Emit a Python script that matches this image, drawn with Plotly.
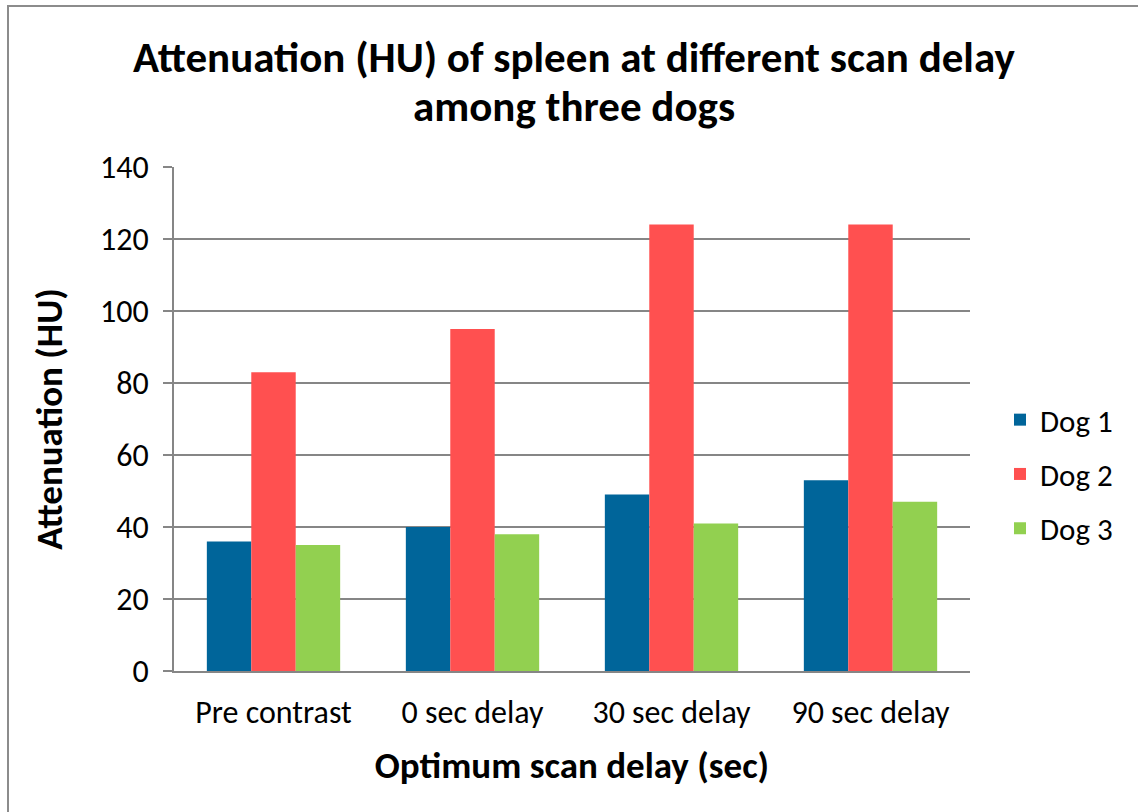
import plotly.graph_objects as go

categorias = ["Pre contrast", "0 sec delay", "30 sec delay", "90 sec delay"]
dog1 = [36, 40, 49, 53]
dog2 = [83, 95, 124, 124]
dog3 = [35, 38, 41, 47]
series = ["Dog 1", "Dog 2", "Dog 3"]
colores = ["#00659A", "#FF5050", "#92D050"]

FUENTE = "Carlito, Calibri, Lato, sans-serif"
W, H = 1138, 812
ML, MR, MT, MB = 174, 168, 167, 141
PW, PH = W - ML - MR, H - MT - MB


def px_x(x):
    # pixel de la pagina -> coordenada paper
    return (x - ML) / PW


def px_y(y):
    return (H - MB - y) / PH


fig = go.Figure()
for nombre, valores, color in zip(series, [dog1, dog2, dog3], colores):
    fig.add_trace(go.Bar(
        x=categorias,
        y=valores,
        name=nombre,
        legendgroup=nombre,
        marker=dict(color=color, line=dict(width=0)),
    ))

# borde exterior del grafico
fig.add_shape(type="rect", xref="paper", yref="paper",
              x0=px_x(8), x1=px_x(1150), y0=px_y(830), y1=px_y(6),
              line=dict(color="#8C8C8C", width=2), layer="below")

# titulo en dos lineas
for texto, ypix in [("Attenuation (HU) of spleen at different scan delay", 57),
                    ("among three dogs", 106)]:
    fig.add_annotation(
        text=texto, xref="paper", yref="paper",
        x=px_x(574), y=px_y(ypix), xanchor="center", yanchor="middle",
        showarrow=False,
        font=dict(family=FUENTE, size=43, color="black", weight="bold"),
    )

fig.update_layout(
    width=W,
    height=H,
    barmode="group",
    bargap=0.33,
    bargroupgap=0,
    plot_bgcolor="white",
    paper_bgcolor="white",
    margin=dict(l=ML, r=MR, t=MT, b=MB),
    font=dict(family=FUENTE, color="black"),
    legend=dict(
        x=px_x(1000), xanchor="left", y=px_y(474), yanchor="middle",
        font=dict(family=FUENTE, size=31, color="black"),
        itemwidth=30, traceorder="grouped", tracegroupgap=11,
    ),
    xaxis=dict(
        title=dict(text="Optimum scan delay (sec)", standoff=21,
                   font=dict(family=FUENTE, size=37, color="black", weight="bold")),
        tickfont=dict(family=FUENTE, size=32, color="black"),
        showline=True, linecolor="#868686", linewidth=2,
        ticks="", ticklabelstandoff=12,
    ),
    yaxis=dict(
        title=dict(text="Attenuation (HU)", standoff=26,
                   font=dict(family=FUENTE, size=37, color="black", weight="bold")),
        range=[0, 140],
        dtick=20,
        tickfont=dict(family=FUENTE, size=32, color="black"),
        showline=True, linecolor="#868686", linewidth=2,
        gridcolor="#868686", gridwidth=2,
        ticks="outside", ticklen=9, tickcolor="#868686", tickwidth=2,
        ticklabelstandoff=8,
        zeroline=False,
    ),
)

fig.write_html("out.html", config={"displayModeBar": False},
               post_script="document.body.style.margin='0';")
